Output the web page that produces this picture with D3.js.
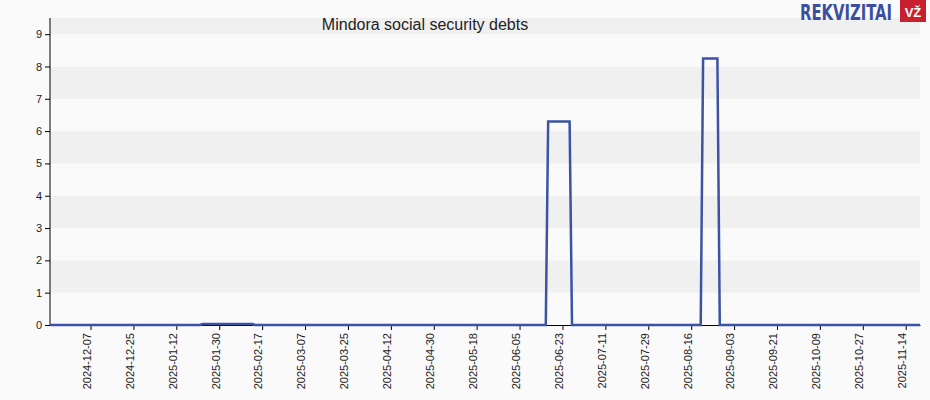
<!DOCTYPE html>
<html>
<head>
<meta charset="utf-8">
<script src="https://cdn.jsdelivr.net/npm/d3@7"></script>
<style>
body { margin: 0; background: #fafafa; }
text { font-family: "Liberation Sans", Arial, sans-serif; }
</style>
</head>
<body>
<svg id="chart" width="930" height="400"></svg>
<script>
const title = "Mindora social security debts"
const dates = ["2024-11-20", "2025-01-22", "2025-01-23", "2025-02-13", "2025-02-14",
    "2025-06-16", "2025-06-17", "2025-06-26", "2025-06-27",
    "2025-08-20", "2025-08-21", "2025-08-27", "2025-08-28", "2025-11-20"]
const debts = [0, 0, 0.03, 0.03, 0, 0, 6.3, 6.3, 0, 0, 8.25, 8.25, 0, 0]
const yTicks = [0, 1, 2, 3, 4, 5, 6, 7, 8, 9]
const tickStart = "2024-12-07"
const tickStepDays = 18

const parse = d3.timeParse("%Y-%m-%d")
const fmt = d3.timeFormat("%Y-%m-%d")
const data = dates.map((d, i) => ({date: parse(d), value: debts[i]}))

const margin = {left: 50, right: 10, top: 18, bottom: 75}
const width = 930, height = 400
const svg = d3.select("#chart")

let x = d3.scaleTime()
    .domain([parse("2024-11-20"), parse("2025-11-20")])
    .range([margin.left, width - margin.right])
let y = d3.scaleLinear()
    .domain([0, 9.5])
    .range([height - margin.bottom, margin.top])

// alternating bands
svg.selectAll(".band")
    .data(d3.range(0, 10))
    .enter().append("rect")
    .attr("x", margin.left)
    .attr("width", width - margin.right - margin.left)
    .attr("y", d => y(Math.min(d + 1, 9.5)))
    .attr("height", d => y(d) - y(Math.min(d + 1, 9.5)))
    .attr("fill", d => d % 2 === 1 ? "#f0f0f0" : "#fafafa")

let ticks = []
for (let t = parse(tickStart); t <= x.domain()[1]; t = d3.timeDay.offset(t, tickStepDays)) ticks.push(t)

let xAxis = d3.axisBottom(x).tickValues(ticks).tickFormat(fmt).tickSize(5).tickSizeOuter(0)
let yAxis = d3.axisLeft(y).tickValues(yTicks).tickSize(5).tickSizeOuter(0)

let gx = svg.append("g")
    .attr("transform", `translate(0, ${height - margin.bottom})`)
    .call(xAxis)
gx.selectAll(".tick text")
    .attr("transform", "rotate(-90)")
    .attr("x", -8).attr("y", -4)
    .attr("dy", "0.35em")
    .style("text-anchor", "end")
    .style("font-size", "11px")
    .attr("fill", "#222")

let gy = svg.append("g")
    .attr("transform", `translate(${margin.left}, 0)`)
    .call(yAxis)
gy.selectAll(".tick text").style("font-size", "11px").attr("fill", "#222")
gy.select(".domain").attr("d", `M0,${y(0)}V${margin.top}`)

svg.append("path")
    .datum(data)
    .attr("fill", "none")
    .attr("stroke", "#3b52a5")
    .attr("stroke-width", 2.5)
    .attr("d", d3.line().x(d => x(d.date)).y(d => y(d.value)))

svg.append("text")
    .attr("x", 425).attr("y", 30)
    .attr("text-anchor", "middle")
    .style("font-size", "16px")
    .attr("fill", "#222")
    .text(title)

// logo
svg.append("text")
    .attr("x", 800).attr("y", 20)
    .attr("textLength", 92).attr("lengthAdjust", "spacingAndGlyphs")
    .style("font-size", "21px").style("font-weight", "bold")
    .style("font-family", "'DejaVu Sans Condensed', sans-serif")
    .attr("fill", "#3a4fa0")
    .text("REKVIZITAI")
svg.append("rect").attr("x", 900).attr("y", 0).attr("width", 26).attr("height", 22).attr("fill", "#c8202f")
svg.append("text")
    .attr("x", 913).attr("y", 17)
    .attr("text-anchor", "middle")
    .style("font-size", "13px").style("font-weight", "bold")
    .attr("fill", "#fff")
    .text("VŽ")
</script>
</body>
</html>
